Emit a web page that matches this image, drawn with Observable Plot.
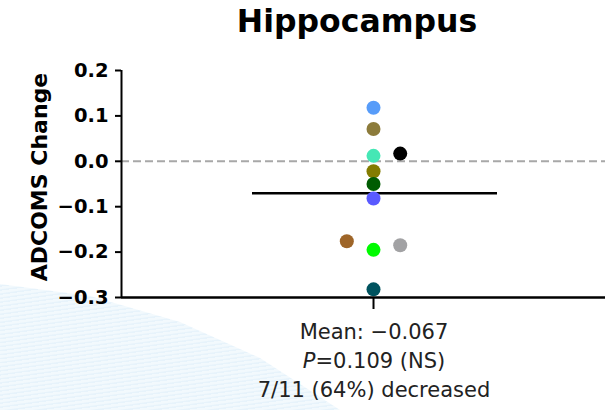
<!DOCTYPE html>
<html>
<head>
<meta charset="utf-8">
<script src="https://cdn.jsdelivr.net/npm/d3@7"></script>
<script src="https://cdn.jsdelivr.net/npm/@observablehq/plot@0.6"></script>
<style>
  html, body { margin: 0; padding: 0; background: #fff; }
  #wrap { position: relative; width: 605px; height: 410px; overflow: hidden; font-family: "DejaVu Sans", sans-serif; }
  #swoosh { position: absolute; left: 0; top: 0; width: 605px; height: 410px;
    clip-path: polygon(0px 284px, 90px 296px, 180px 322px, 260px 358px, 340px 410px, 0px 410px);
    background: repeating-linear-gradient(172deg, #f2f9fd 0px, #f2f9fd 2px, #e7f3fb 3px, #e7f3fb 4px); }
  #chart { position: absolute; left: 0; top: 0; }
  #title { position: absolute; left: 107px; width: 500px; top: 3px; text-align: center;
    font: bold 31.5px "DejaVu Sans", sans-serif; color: #000; }
  #caption { position: absolute; left: 224px; width: 300px; top: 318px; text-align: center;
    font: 21px "DejaVu Sans", sans-serif; line-height: 29px; color: #222; }
</style>
</head>
<body>
<div id="wrap">
  <div id="swoosh"></div>
  <div id="chart"></div>
  <div id="title"></div>
  <div id="caption"></div>
</div>
<script>
// ---- data ----
const title = "Hippocampus";
const yLabel = "ADCOMS Change";
const subjects = ["S1","S2","S3","S4","S5","S6","S7","S8","S9","S10","S11"];
const values   = [0.118, 0.071, 0.012, 0.017, -0.022, -0.050, -0.082, -0.176, -0.195, -0.185, -0.282];
const swarmSide = [0, 0, 0, 1, 0, 0, 0, -1, 0, 1, 0];
const pointColors = ["#579cf9", "#8c7b3b", "#45e7b5", "#000000", "#837c00", "#005c02", "#5a5aff", "#9e6528", "#00fb00", "#a2a2a4", "#00535f"];
const yTicks = [-0.3, -0.2, -0.1, 0.0, 0.1, 0.2];
const captionLines = ["Mean: \u22120.067", "<i>P</i>=0.109 (NS)", "7/11 (64%) decreased"];

const data = subjects.map((s, i) => ({subject: s, value: values[i], side: swarmSide[i]}));
const xDomain = [-9.44, 8.69];
const yDomain = [d3.min(yTicks), d3.max(yTicks)];

const chart = Plot.plot({
  width: 605,
  height: 410,
  marginLeft: 121,
  marginRight: 0,
  marginTop: 70,
  marginBottom: 113,
  style: {background: "transparent", fontFamily: "DejaVu Sans, sans-serif", color: "#000", overflow: "visible"},
  x: {domain: xDomain},
  y: {domain: yDomain},
  color: {type: "ordinal", domain: subjects, range: pointColors},
  marks: [
    Plot.ruleY([0], {stroke: "#a8a8a8", strokeWidth: 2, strokeDasharray: "8,4"}),
    Plot.ruleY([d3.mean(values)], {stroke: "#000", strokeWidth: 2.5, insetLeft: 131, insetRight: 108}),
    Plot.dot(data, {x: "side", y: "value", fill: "subject", r: 7}),
    Plot.ruleY([yDomain[0]], {stroke: "#000", strokeWidth: 2.5}),
    Plot.ruleX([xDomain[0]], {stroke: "#000", strokeWidth: 2}),
    Plot.axisY({ticks: yTicks, tickSize: 6, tickPadding: 7, tickFormat: d3.format(".1f"),
      fontWeight: "bold", fontSize: 19.5, strokeWidth: 2, label: null}),
    Plot.axisX({ticks: [0], tickSize: 12, tickFormat: () => "", strokeWidth: 2, label: null}),
    Plot.text([yLabel], {frameAnchor: "left", textAnchor: "middle", lineAnchor: "middle", rotate: -90, dx: -82, dy: -7, fontWeight: "bold", fontSize: 22, fill: "#000"})
  ]
});
document.getElementById("chart").append(chart);
document.getElementById("title").textContent = title;
document.getElementById("caption").innerHTML = captionLines.join("<br>");
</script>
</body>
</html>
